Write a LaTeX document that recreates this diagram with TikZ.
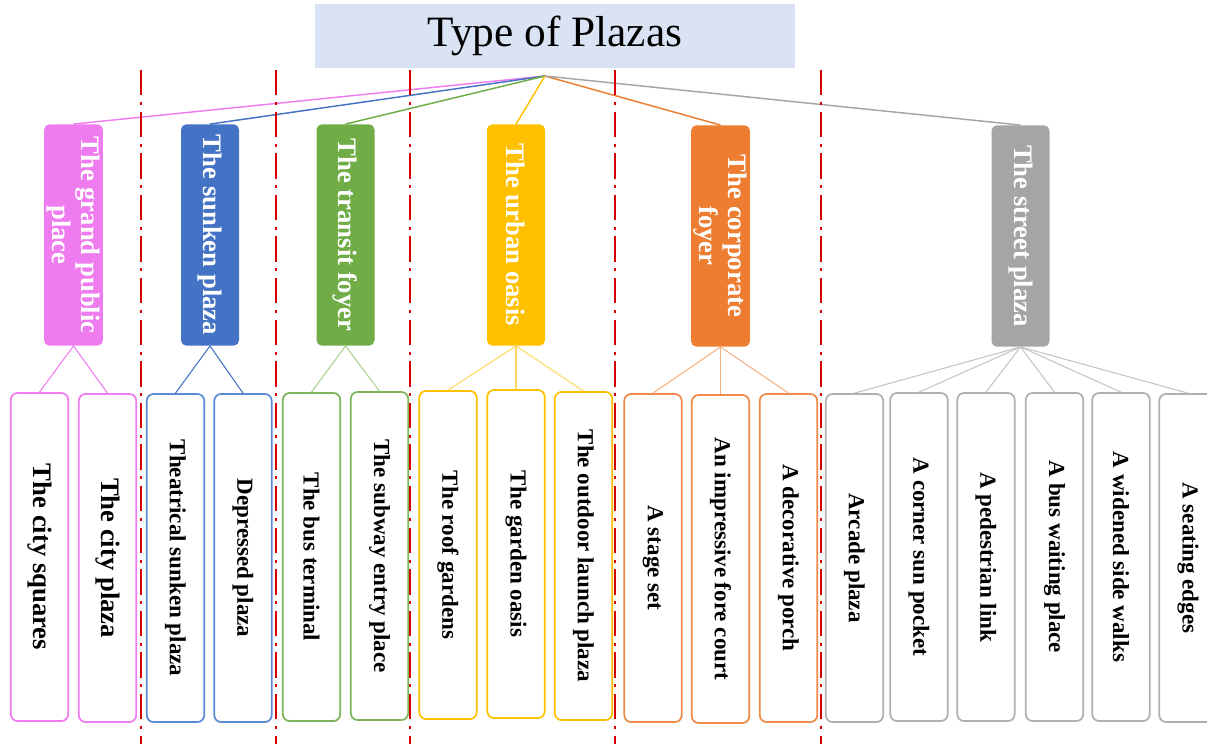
\documentclass[tikz,border=0pt]{standalone}
\usepackage{fontspec}
\setmainfont{Liberation Serif}
\definecolor{titlebg}{HTML}{DAE3F3}
\definecolor{pinkc}{HTML}{EE7CEE}
\definecolor{bluec}{HTML}{4472C4}
\definecolor{greenc}{HTML}{70AD47}
\definecolor{goldc}{HTML}{FFC000}
\definecolor{orangec}{HTML}{ED7D31}
\definecolor{grayc}{HTML}{A5A5A5}
\definecolor{blueleaf}{HTML}{5B8AD6}
\definecolor{greenleaf}{HTML}{7CB55A}
\definecolor{orangeleaf}{HTML}{F08A4B}
\definecolor{grayleaf}{HTML}{B0B0B0}
\definecolor{greentwig}{HTML}{A9D18E}
\definecolor{goldtwig}{HTML}{FFD966}
\definecolor{orangetwig}{HTML}{F4B183}
\definecolor{graytwig}{HTML}{C4C4C4}
\definecolor{divred}{HTML}{D40000}
\newcommand\catfont{\fontsize{20}{22}\selectfont\bfseries}
\newcommand\leaffont{\fontsize{17.25}{19}\selectfont\bfseries}
\newcommand\bigleaffont{\fontsize{20}{22}\selectfont\bfseries}
\tikzset{
  cat/.style={fill=#1, rounded corners=4pt, rotate=-90, minimum width=166pt, minimum height=43.5pt, inner sep=2pt, text=white, font=\catfont, align=center},
  leaf/.style={draw=#1, fill=white, line width=1.3pt, rounded corners=5pt, rotate=-90, minimum width=246pt, minimum height=43pt, inner sep=2pt, font=\leaffont},
  link/.style={draw=#1, line width=1.1pt},
  twig/.style={draw=#1, line width=0.8pt},
  divider/.style={draw=divred, line width=2.2pt, dash pattern=on 19pt off 5pt on 2.2pt off 5pt},
}
\begin{document}
\begin{tikzpicture}[x=0.75pt,y=-0.75pt]
    \useasboundingbox (0,0) rectangle (1207,744);
    % title and the point all branches leave from
    \node[fill=titlebg, minimum width=360pt, minimum height=48pt, font=\fontsize{32.5}{36}\selectfont](title) at (555,36) {Type of Plazas};
    \coordinate (hub) at (545,76);

    % plaza types
    \node[cat=pinkc](grand) at (73.5,235) {The grand public\\place};
    \node[cat=bluec](sunken) at (210,235) {The sunken plaza};
    \node[cat=greenc](transit) at (345.5,235) {The transit foyer};
    \node[cat=goldc](oasis) at (516,235) {The urban oasis};
    \node[cat=orangec](corporate) at (720.5,236) {The corporate\\foyer};
    \node[cat=grayc](street) at (1020.5,236) {The street plaza};

    \draw[link=pinkc] (hub) -- (grand.west);
    \draw[link=bluec] (hub) -- (sunken.west);
    \draw[link=greenc] (hub) -- (transit.west);
    \draw[link=goldc] (hub) -- (oasis.west);
    \draw[link=orangec] (hub) -- (corporate.west);
    \draw[link=grayc] (hub) -- (street.west);

    % examples
    \node[leaf=pinkc, font=\bigleaffont](squares) at (39.5,557) {The city squares};
    \node[leaf=pinkc, font=\bigleaffont](cityplaza) at (107.5,558) {The city plaza};
    \node[leaf=blueleaf](theatrical) at (175.5,558) {Theatrical sunken plaza};
    \node[leaf=blueleaf](depressed) at (243,558) {Depressed plaza};
    \node[leaf=greenleaf](bus) at (311.5,557) {The bus terminal};
    \node[leaf=greenleaf](subway) at (379.5,556) {The subway entry place};
    \node[leaf=goldc](roof) at (448,555) {The roof gardens};
    \node[leaf=goldc](garden) at (516,554) {The garden oasis};
    \node[leaf=goldc](launch) at (583.5,556) {The outdoor launch plaza};
    \node[leaf=orangeleaf](stage) at (653,558) {A stage set};
    \node[leaf=orangeleaf](forecourt) at (720.5,559) {An impressive fore court};
    \node[leaf=orangeleaf](porch) at (788.5,558) {A decorative porch};
    \node[leaf=grayleaf](arcade) at (854.5,558) {Arcade plaza};
    \node[leaf=grayleaf](pocket) at (919,557) {A corner sun pocket};
    \node[leaf=grayleaf](link) at (986,557) {A pedestrian link};
    \node[leaf=grayleaf](waiting) at (1054.5,557) {A bus waiting place};
    \node[leaf=grayleaf](walks) at (1121,557) {A widened side walks};
    \node[leaf=grayleaf](edges) at (1188,558) {A seating edges};

    \draw[twig=pinkc] (grand.east) -- (squares.west);
    \draw[twig=pinkc] (grand.east) -- (cityplaza.west);
    \draw[twig=bluec] (sunken.east) -- (theatrical.west);
    \draw[twig=bluec] (sunken.east) -- (depressed.west);
    \draw[twig=greentwig] (transit.east) -- (bus.west);
    \draw[twig=greentwig] (transit.east) -- (subway.west);
    \draw[twig=goldtwig] (oasis.east) -- (roof.west);
    \draw[twig=goldtwig] (oasis.east) -- (garden.west);
    \draw[twig=goldtwig] (oasis.east) -- (launch.west);
    \draw[twig=orangetwig] (corporate.east) -- (stage.west);
    \draw[twig=orangetwig] (corporate.east) -- (forecourt.west);
    \draw[twig=orangetwig] (corporate.east) -- (porch.west);
    \draw[twig=graytwig] (street.east) -- (arcade.west);
    \draw[twig=graytwig] (street.east) -- (pocket.west);
    \draw[twig=graytwig] (street.east) -- (link.west);
    \draw[twig=graytwig] (street.east) -- (waiting.west);
    \draw[twig=graytwig] (street.east) -- (walks.west);
    \draw[twig=graytwig] (street.east) -- (edges.west);

    % red separators between the groups
    \draw[divider] (141,70) -- (141,744);
    \draw[divider] (276,70) -- (276,744);
    \draw[divider] (410,70) -- (410,744);
    \draw[divider] (615,70) -- (615,744);
    \draw[divider] (821,70) -- (821,744);
\end{tikzpicture}
\end{document}
